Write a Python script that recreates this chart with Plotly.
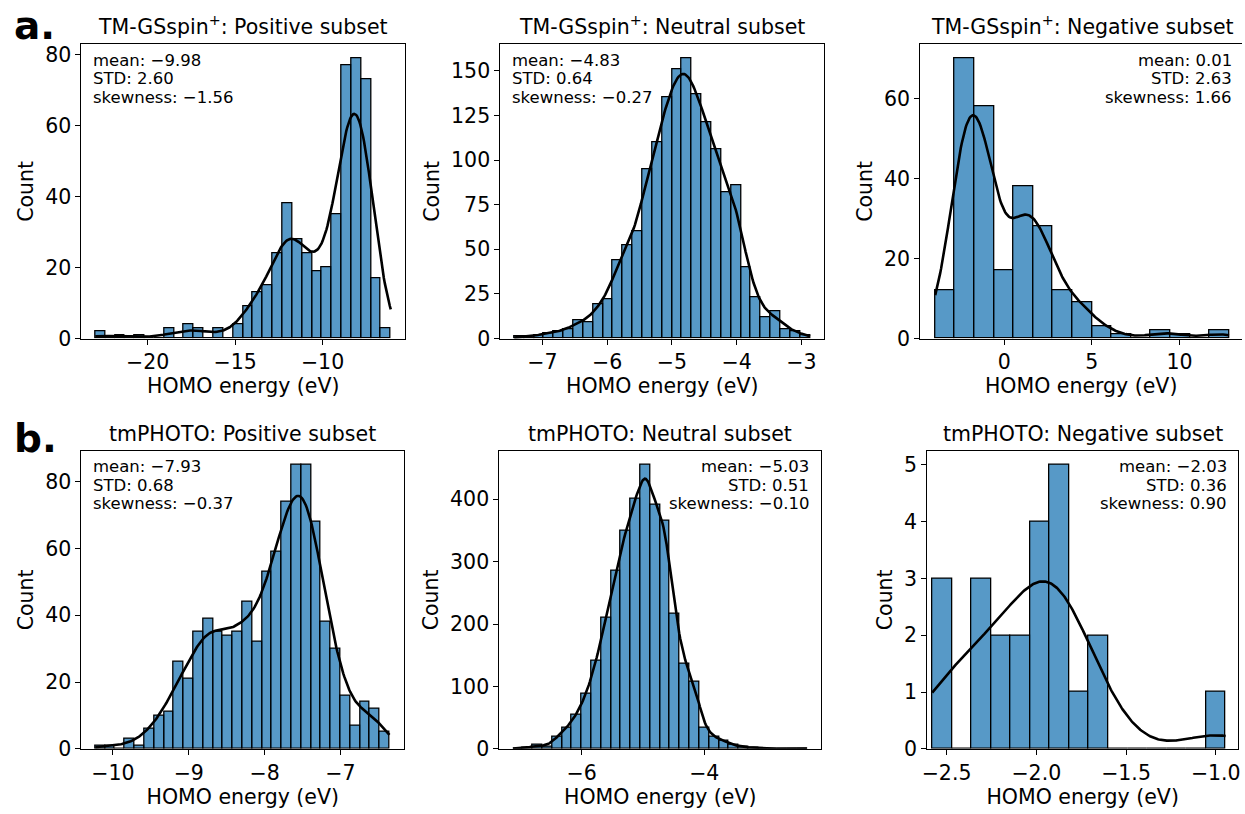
import numpy as np
import plotly.graph_objects as go

# ---------------------------------------------------------------------------
# Data: HOMO energy histograms (counts per equal-width bin) for each subset
# ---------------------------------------------------------------------------
titles = [
    "TM-GSspin<sup>+</sup>: Positive subset",
    "TM-GSspin<sup>+</sup>: Neutral subset",
    "TM-GSspin<sup>+</sup>: Negative subset",
    "tmPHOTO: Positive subset",
    "tmPHOTO: Neutral subset",
    "tmPHOTO: Negative subset",
]

tm_pos_counts = [2, 0, 1, 0, 1, 0, 0, 3, 0, 4, 3, 0, 3, 0, 4,
                 9, 13, 15, 24, 38, 28, 24, 19, 20, 35, 77, 79, 73, 17, 3]
tm_neu_counts = [1, 1, 2, 3, 4, 5, 10, 9, 19, 22, 44, 52, 60, 95, 110,
                 135, 151, 157, 137, 121, 106, 82, 86, 40, 23, 12, 15, 5, 4, 2]
tm_neg_counts = [12, 70, 58, 17, 38, 28, 12, 9, 3, 1, 0, 2, 1, 0, 2]
ph_pos_counts = [1, 1, 0, 3, 1, 6, 10, 11, 26, 21, 35, 39, 35, 34, 35,
                 44, 32, 53, 59, 74, 85, 85, 68, 38, 30, 16, 7, 14, 12, 5]
ph_neu_counts = [1, 2, 6, 4, 19, 34, 55, 88, 141, 210, 286, 350, 401, 455, 391,
                 366, 217, 136, 107, 34, 19, 13, 6, 3, 2, 1, 0, 0, 0, 1]
ph_neg_counts = [3, 0, 3, 2, 2, 4, 5, 1, 2, 0, 0, 0, 0, 0, 1]

counts_all = [tm_pos_counts, tm_neu_counts, tm_neg_counts,
              ph_pos_counts, ph_neu_counts, ph_neg_counts]

# data range (min, max HOMO energy, eV) spanned by the bins of each subset
bin_ranges = [(-23.0, -6.1), (-7.436, -2.867), (-3.94, 12.83),
              (-10.232, -6.354), (-7.119, -2.323), (-2.58, -0.945)]

# summary statistics printed in each panel
means = [-9.98, -4.83, 0.01, -7.93, -5.03, -2.03]
stds = [2.60, 0.64, 2.63, 0.68, 0.51, 0.36]
skews = [-1.56, -0.27, 1.66, -0.37, -0.10, 0.90]

# axis limits and ticks
x_limits = [(-23.79, -5.28), (-7.65, -2.65), (-4.79, 13.67),
            (-10.415, -6.161), (-7.341, -2.096), (-2.6075, -0.876)]
x_ticks = [[-20, -15, -10], [-7, -6, -5, -4, -3], [0, 5, 10],
           [-10, -9, -8, -7], [-6, -4], [-2.5, -2.0, -1.5, -1.0]]
y_ticks = [[0, 20, 40, 60, 80], [0, 25, 50, 75, 100, 125, 150], [0, 20, 40, 60],
           [0, 20, 40, 60, 80], [0, 100, 200, 300, 400], [0, 1, 2, 3, 4, 5]]
x_tick_decimals = [0, 0, 0, 0, 0, 1]
stat_align = ["left", "left", "right", "left", "right", "right"]

# ---------------------------------------------------------------------------
# Layout geometry (pixels): left, right, top, bottom of each axes box
# ---------------------------------------------------------------------------
W, H = 1245, 814
boxes = [(76, 402, 44, 343), (498, 824, 44, 343), (921, 1246.8, 44, 343),
         (76, 401, 457, 760), (497, 821, 457, 760), (928, 1241, 457, 760)]

FONT = "DejaVu Sans"
MAIN_SIZE = 20.5
BAR_FILL = "rgba(31,119,180,0.75)"


def fmt(v, d):
    return f"{v:.{d}f}".replace("-", "\u2212")


def kde_curve(counts, lo, hi, npts=300):
    """Gaussian KDE (Scott bandwidth) of the binned sample, scaled to counts."""
    c = np.asarray(counts, dtype=float)
    nb = len(c)
    w = (hi - lo) / nb
    centers = lo + w * (np.arange(nb) + 0.5)
    n = c.sum()
    mu = np.sum(c * centers) / n
    sd = np.sqrt(np.sum(c * (centers - mu) ** 2) / (n - 1))
    bw = sd * n ** (-0.2)
    xs = np.linspace(lo, hi, npts)
    z = (xs[:, None] - centers[None, :]) / bw
    dens = (c[None, :] * np.exp(-0.5 * z ** 2)).sum(axis=1) / (n * bw * np.sqrt(2 * np.pi))
    return xs, dens * n * w


fig = go.Figure()
annotations = []
layout_axes = {}

for i in range(6):
    counts = counts_all[i]
    lo, hi = bin_ranges[i]
    nb = len(counts)
    bw = (hi - lo) / nb
    centers = lo + bw * (np.arange(nb) + 0.5)
    sfx = "" if i == 0 else str(i + 1)
    xa, ya = "x" + sfx, "y" + sfx

    fig.add_trace(go.Bar(
        x=centers, y=counts, width=bw, xaxis=xa, yaxis=ya,
        marker=dict(color=BAR_FILL, line=dict(color="black", width=1.3)),
        showlegend=False, hoverinfo="x+y",
    ))
    kx, ky = kde_curve(counts, lo, hi)
    fig.add_trace(go.Scatter(
        x=kx, y=ky, mode="lines", xaxis=xa, yaxis=ya,
        line=dict(color="black", width=2.6), showlegend=False, hoverinfo="skip",
    ))

    left, right, top, bottom = boxes[i]
    xlo, xhi = x_limits[i]
    right_vis = min(right, W)
    if right > W:  # axes box runs past the page edge: keep the same scale
        xhi = xlo + (xhi - xlo) * (right_vis - left) / (right - left)
    ymax = 1.05 * max(max(counts), float(ky.max()))

    tick_font = dict(family=FONT, size=MAIN_SIZE, color="black")
    common = dict(showline=True, linecolor="black", linewidth=1.2,
                  ticks="outside", ticklen=5, tickwidth=1.2, tickcolor="black",
                  showgrid=False, zeroline=False, tickfont=tick_font)

    layout_axes["xaxis" + sfx] = dict(
        common, domain=[left / W, right_vis / W], anchor=ya, range=[xlo, xhi],
        mirror=True, tickvals=x_ticks[i],
        ticktext=[fmt(v, x_tick_decimals[i]) for v in x_ticks[i]],
        title=dict(text="HOMO energy (eV)",
                   font=dict(family=FONT, size=MAIN_SIZE, color="black"),
                   standoff=5),
    )
    layout_axes["yaxis" + sfx] = dict(
        common, domain=[1 - bottom / H, 1 - top / H], anchor=xa, range=[0, ymax],
        mirror=(right <= W), tickvals=y_ticks[i],
        ticktext=[fmt(v, 0) for v in y_ticks[i]],
        title=dict(text="Count",
                   font=dict(family=FONT, size=MAIN_SIZE, color="black"),
                   standoff=5),
    )

    # panel title
    annotations.append(dict(
        text=titles[i], xref="paper", yref="paper",
        x=(left + right) / 2 / W, y=1 - (top - 3) / H,
        xanchor="center", yanchor="bottom", showarrow=False,
        font=dict(family=FONT, size=MAIN_SIZE, color="black"),
    ))

    # statistics block
    width = right - left
    if stat_align[i] == "left":
        sx, xanchor = left + 0.03 * width, "left"
    else:
        sx, xanchor = left + 0.97 * width, "right"
    lines = [f"mean: {fmt(means[i], 2)}", f"STD: {fmt(stds[i], 2)}",
             f"skewness: {fmt(skews[i], 2)}"]
    for k, line in enumerate(lines):
        base = top + 22 + 18.7 * k
        annotations.append(dict(
            text=line, xref="paper", yref="paper",
            x=sx / W, y=1 - (base - 5.5) / H,
            xanchor=xanchor, yanchor="middle", showarrow=False,
            font=dict(family=FONT, size=16.5, color="black"),
        ))

# panel letters
for letter, ypix in [("a.", 0), ("b.", 420)]:
    annotations.append(dict(
        text=f"<b>{letter}</b>", xref="paper", yref="paper",
        x=6 / W, y=1 - ypix / H, xanchor="left", yanchor="top",
        showarrow=False, font=dict(family=FONT, size=39, color="black"),
    ))

fig.update_layout(
    width=W, height=H,
    margin=dict(l=0, r=0, t=0, b=0),
    paper_bgcolor="white", plot_bgcolor="white",
    bargap=0, annotations=annotations,
    font=dict(family=FONT, color="black"),
    **layout_axes,
)

fig.write_html("out.html")
